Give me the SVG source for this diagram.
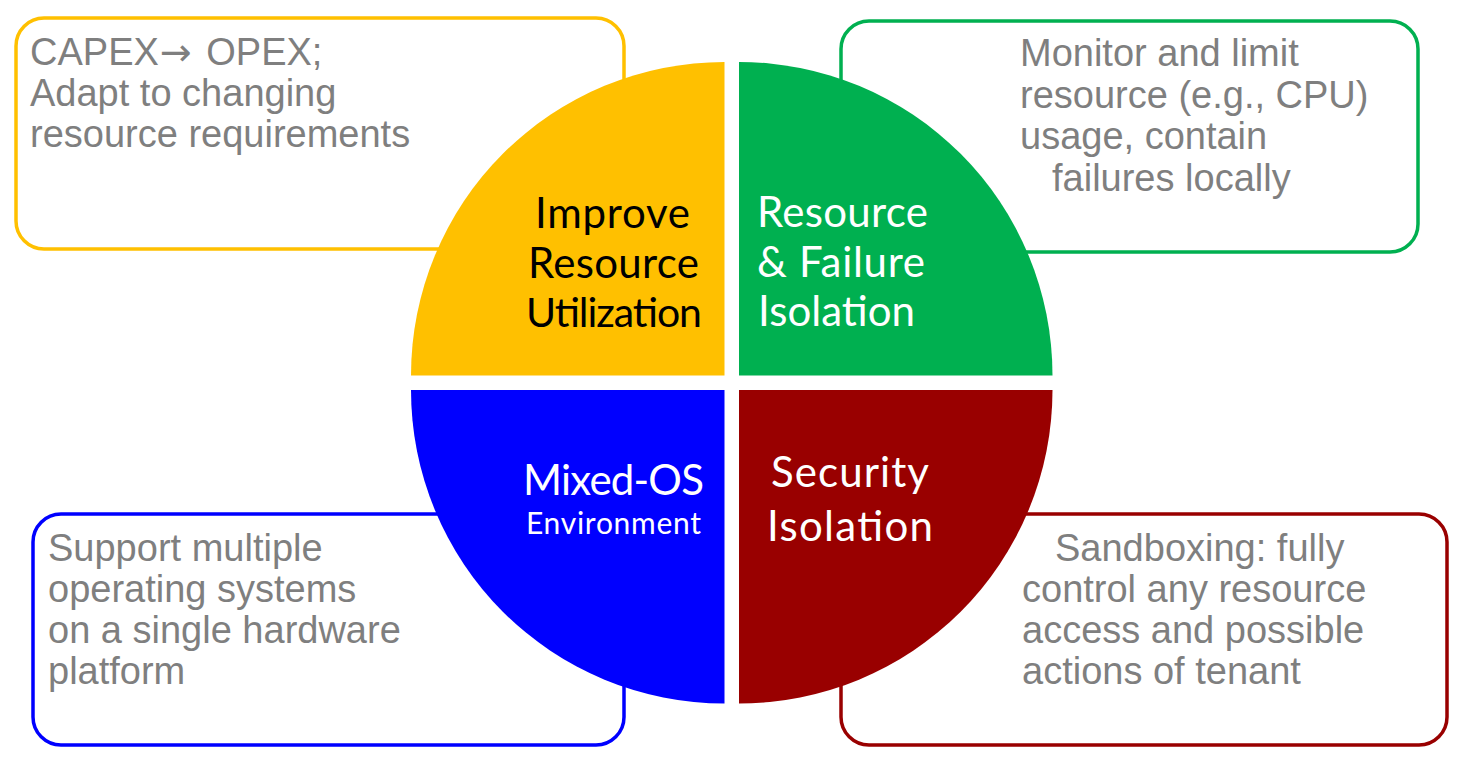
<svg xmlns="http://www.w3.org/2000/svg" width="1466" height="765" viewBox="0 0 1466 765">
<style>
.box{fill:#fff;stroke-width:3.5}
.desc{font-family:"Liberation Sans",Arial,sans-serif;font-size:38px;fill:#7f7f7f}
.arr{font-family:"DejaVu Sans",sans-serif}
.lbl{font-family:Lato,"Open Sans",sans-serif;font-size:42px}
</style>
<rect width="1466" height="765" fill="#fff"/>
<g id="box-utilization"><rect class="box" x="16" y="18" width="608" height="231" rx="28" stroke="#FFC000"/>
<text class="desc"><tspan x="30" y="65">CAPEX</tspan><tspan class="arr" dx="1">→</tspan><tspan dx="4"> OPEX;</tspan><tspan x="30" y="106">Adapt to changing</tspan><tspan x="30" y="147">resource requirements</tspan></text></g>
<g id="box-failure"><rect class="box" x="841" y="21" width="577" height="231" rx="28" stroke="#00B050"/>
<text class="desc"><tspan x="1020" y="66">Monitor and limit</tspan><tspan x="1020" y="108">resource (e.g., CPU)</tspan><tspan x="1020" y="149">usage, contain</tspan><tspan x="1052" y="191">failures locally</tspan></text></g>
<g id="box-mixedos"><rect class="box" x="33" y="514" width="591" height="231" rx="28" stroke="#0000FF"/>
<text class="desc"><tspan x="48" y="561">Support multiple</tspan><tspan x="48" y="602">operating systems</tspan><tspan x="48" y="643">on a single hardware</tspan><tspan x="48" y="684">platform</tspan></text></g>
<g id="box-security"><rect class="box" x="841" y="514" width="606" height="231" rx="28" stroke="#990000"/>
<text class="desc"><tspan x="1055" y="561">Sandboxing: fully</tspan><tspan x="1022" y="602">control any resource</tspan><tspan x="1022" y="643">access and possible</tspan><tspan x="1022" y="684">actions of tenant</tspan></text></g>
<g id="q-utilization"><path d="M724.5 375.5 L411 375.5 A313.5 313.5 0 0 1 724.5 62 Z" fill="#FFC000"/>
<g class="lbl" fill="#000"><text x="535" y="228" textLength="155">Improve</text><text x="528" y="278" textLength="171">Resource</text><text x="526" y="327" font-size="41" textLength="176">Utilization</text></g></g>
<g id="q-failure"><path d="M739 375.5 L739 62 A313.5 313.5 0 0 1 1052.5 375.5 Z" fill="#00B050"/>
<g class="lbl" fill="#fff"><text x="757" y="227" textLength="171">Resource</text><text x="757" y="277" textLength="168">&amp; Failure</text><text x="758" y="326" textLength="157">Isolation</text></g></g>
<g id="q-mixedos"><path d="M724.5 390 L724.5 703.5 A313.5 313.5 0 0 1 411 390 Z" fill="#0000FF"/>
<g class="lbl" fill="#fff"><text x="523" y="495" textLength="181">Mixed-OS</text><text x="526" y="534" font-size="30" textLength="175">Environment</text></g></g>
<g id="q-security"><path d="M739 390 L1052.5 390 A313.5 313.5 0 0 1 739 703.5 Z" fill="#990000"/>
<g class="lbl" fill="#fff" font-size="44"><text x="771" y="487" textLength="158">Security</text><text x="767" y="541" textLength="166">Isolation</text></g></g>
<g id="connectors"/>
</svg>
